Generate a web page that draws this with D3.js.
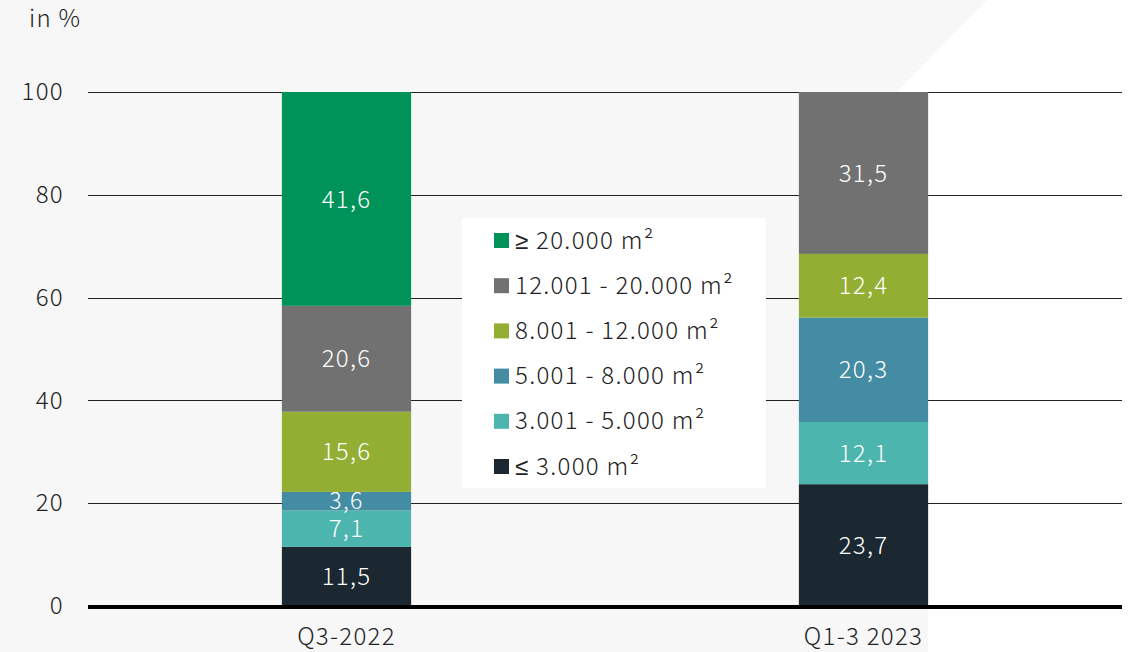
<!DOCTYPE html>
<html>
<head>
<meta charset="utf-8">
<script src="https://cdn.jsdelivr.net/npm/d3@7"></script>
<style>
  html, body { margin: 0; padding: 0; background: #f7f7f7; }
  svg { display: block; font-family: "Noto Sans CJK SC", "Noto Sans", sans-serif; font-weight: 300; letter-spacing: 1.3px; }
</style>
</head>
<body>
<svg id="chart" width="1141" height="652"></svg>
<script>
// categories and series (bottom to top)
const periods = ["Q3-2022", "Q1-3 2023"];
const sizeClasses = ["≤ 3.000 m²", "3.001 - 5.000 m²", "5.001 - 8.000 m²", "8.001 - 12.000 m²", "12.001 - 20.000 m²", "≥ 20.000 m²"];
const q3_2022 = [11.5, 7.1, 3.6, 15.6, 20.6, 41.6];
const q1_3_2023 = [23.7, 12.1, 20.3, 12.4, 31.5, 0];
const classColors = ["#1b2731", "#4bb5ae", "#438ca4", "#92ae33", "#717171", "#009359"];
const yTicks = [0, 20, 40, 60, 80, 100];

const width = 1141, height = 652;
const margin = { top: 92, right: 19, bottom: 46, left: 88 };
const fontSize = 24;

const svg = d3.select("#chart");

// table for the stack
const table = periods.map((p, i) => {
  const row = { period: p };
  const vals = i === 0 ? q3_2022 : q1_3_2023;
  sizeClasses.forEach((c, j) => row[c] = vals[j]);
  return row;
});
const series = d3.stack().keys(sizeClasses)(table);

const x = d3.scaleBand()
  .domain(periods)
  .range([margin.left, width - margin.right])
  .paddingInner(0.75)
  .paddingOuter(0.375);

const y = d3.scaleLinear()
  .domain([0, 100])
  .range([height - margin.bottom, margin.top]);

// background: light grey with a white area on the right
const barRight = x(periods[1]) + x.bandwidth();
svg.append("rect").attr("width", width).attr("height", height).attr("fill", "#f7f7f7");
svg.append("path")
  .attr("d", `M987,0 L${width},0 L${width},${height} L${barRight},${height} L${barRight},${y(100)} L897,${y(100)} Z`)
  .attr("fill", "#ffffff");

// gridlines
svg.append("g")
  .selectAll("line")
  .data(yTicks.filter(d => d > 0))
  .join("line")
  .attr("x1", margin.left)
  .attr("x2", width - margin.right)
  .attr("y1", d => Math.round(y(d)) + 0.5)
  .attr("y2", d => Math.round(y(d)) + 0.5)
  .attr("stroke", "#222")
  .attr("stroke-width", 1);

// y axis labels
const yAxis = d3.axisLeft(y).tickValues(yTicks).tickSize(0).tickPadding(24);
svg.append("g")
  .attr("transform", `translate(${margin.left},0)`)
  .call(yAxis)
  .attr("font-family", null)
  .attr("font-size", fontSize)
  .call(g => g.select(".domain").remove())
  .call(g => g.selectAll("text").attr("fill", "#222"));

svg.append("text")
  .attr("x", 29)
  .attr("y", 27)
  .attr("font-size", fontSize)
  .attr("fill", "#222")
  .text("in %");

// bars
const layers = svg.append("g")
  .selectAll("g")
  .data(series)
  .join("g")
  .attr("fill", (d, i) => classColors[i]);

layers.selectAll("rect")
  .data(d => d.filter(s => s[1] - s[0] > 0))
  .join("rect")
  .attr("x", d => x(d.data.period))
  .attr("y", d => y(d[1]))
  .attr("width", x.bandwidth())
  .attr("height", d => y(d[0]) - y(d[1]));

// value labels
const fmt = v => d3.format(".1f")(v).replace(".", ",");
svg.append("g")
  .selectAll("g")
  .data(series)
  .join("g")
  .selectAll("text")
  .data(d => d.filter(s => s[1] - s[0] > 0))
  .join("text")
  .attr("x", d => x(d.data.period) + x.bandwidth() / 2)
  .attr("y", d => y((d[0] + d[1]) / 2))
  .attr("dy", "0.36em")
  .attr("text-anchor", "middle")
  .attr("font-size", d => (y(d[0]) - y(d[1]) < 24 ? fontSize - 1 : fontSize))
  .attr("fill", "#ffffff")
  .text(d => fmt(d[1] - d[0]));

// baseline
svg.append("line")
  .attr("x1", margin.left)
  .attr("x2", width - margin.right)
  .attr("y1", y(0) + 1)
  .attr("y2", y(0) + 1)
  .attr("stroke", "#000")
  .attr("stroke-width", 4);

// x axis labels
svg.append("g")
  .selectAll("text")
  .data(periods)
  .join("text")
  .attr("x", d => x(d) + x.bandwidth() / 2)
  .attr("y", 645)
  .attr("text-anchor", "middle")
  .attr("font-size", fontSize)
  .attr("fill", "#222")
  .text(d => d);

// legend (top to bottom: largest class first)
const legendX = 462, legendY = 218;
svg.append("rect")
  .attr("x", legendX)
  .attr("y", legendY)
  .attr("width", 304)
  .attr("height", 270)
  .attr("fill", "#ffffff");

const legendItems = sizeClasses.map((c, i) => ({ label: c, color: classColors[i] })).reverse();
const legend = svg.append("g")
  .selectAll("g")
  .data(legendItems)
  .join("g")
  .attr("transform", (d, i) => `translate(${legendX + 32},${legendY + 22 + i * 45.2})`);

legend.append("rect")
  .attr("x", 0)
  .attr("y", -7)
  .attr("width", 15)
  .attr("height", 15)
  .attr("fill", d => d.color);

// the ≤ / ≥ signs come from a Latin font so they are drawn upright
const legendText = legend.append("text")
  .attr("x", 21)
  .attr("dy", "0.36em")
  .attr("font-size", fontSize)
  .attr("fill", "#222");

legendText.each(function (d) {
  const t = d3.select(this);
  const sign = d.label.match(/^[≤≥]/);
  if (sign) {
    t.append("tspan").attr("font-family", "'Noto Sans', 'DejaVu Sans', sans-serif").text(sign[0]);
    t.append("tspan").text(d.label.slice(1));
  } else {
    t.text(d.label);
  }
});
</script>
</body>
</html>
